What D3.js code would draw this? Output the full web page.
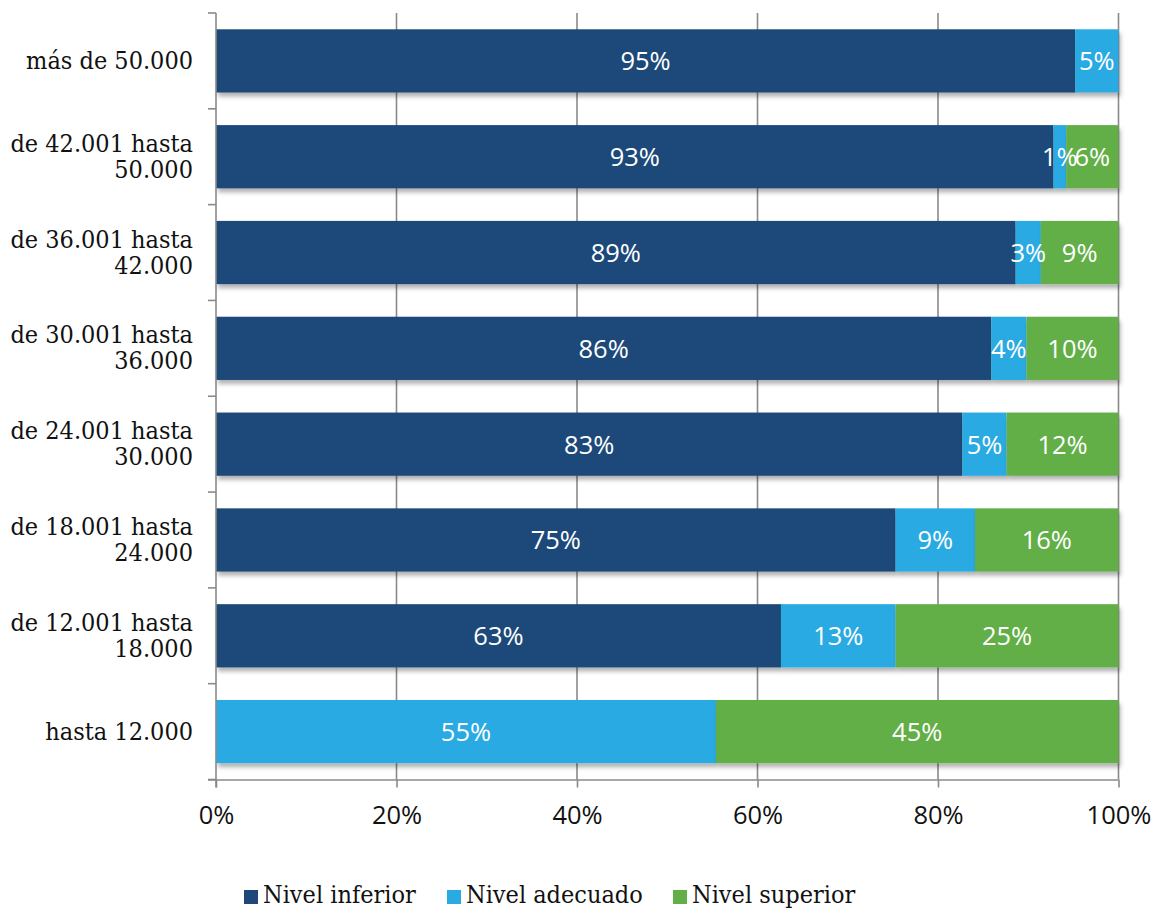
<!DOCTYPE html>
<html>
<head>
<meta charset="utf-8">
<script src="https://cdn.jsdelivr.net/npm/d3@7"></script>
<style>
  html, body { margin: 0; padding: 0; background: #fff; }
  svg { display: block; }
  .cat { font-family: "DejaVu Serif", serif; font-stretch: condensed; font-size: 25px; fill: #111; }
  .leg { font-family: "DejaVu Serif", serif; font-stretch: condensed; font-size: 25px; fill: #111; }
  .num { font-family: "Open Sans", sans-serif; font-weight: 400; font-size: 25.5px; }
</style>
</head>
<body>
<svg id="chart" width="1157" height="908"></svg>
<script>
// Income brackets (top to bottom)
const categories = [
  ["más de 50.000"],
  ["de 42.001 hasta", "50.000"],
  ["de 36.001 hasta", "42.000"],
  ["de 30.001 hasta", "36.000"],
  ["de 24.001 hasta", "30.000"],
  ["de 18.001 hasta", "24.000"],
  ["de 12.001 hasta", "18.000"],
  ["hasta 12.000"]
];
const seriesNames = ["Nivel inferior", "Nivel adecuado", "Nivel superior"];
// Shares per bracket (fractions of 1)
const nivelInferior  = [0.952, 0.928, 0.886, 0.859, 0.827, 0.753, 0.626, 0.0];
const nivelAdecuado  = [0.048, 0.014, 0.028, 0.039, 0.049, 0.088, 0.127, 0.554];
const nivelSuperior  = [0.0,   0.058, 0.086, 0.102, 0.124, 0.159, 0.247, 0.446];
const xTicks = [0, 0.2, 0.4, 0.6, 0.8, 1.0];
const colors = ["#1f4879", "#29aae2", "#62ae47"];

const svg = d3.select("#chart");
const plotLeft = 216, plotRight = 1118.5, plotTop = 13, plotBottom = 779.5;

const x = d3.scaleLinear().domain([0, 1]).range([plotLeft, plotRight]);
const y = d3.scaleBand().domain(d3.range(categories.length)).range([plotTop, plotBottom])
  .paddingInner(0.34).paddingOuter(0.17);

// drop shadow under bars
const defs = svg.append("defs");
const f = defs.append("filter").attr("id", "shadow")
  .attr("x", "-5%").attr("y", "-20%").attr("width", "110%").attr("height", "150%");
f.append("feDropShadow").attr("dx", 2).attr("dy", 4).attr("stdDeviation", 2.2)
  .attr("flood-color", "#000").attr("flood-opacity", 0.3);

// vertical gridlines
svg.append("g").selectAll("line").data(xTicks.slice(1)).join("line")
  .attr("x1", d => x(d)).attr("x2", d => x(d))
  .attr("y1", plotTop).attr("y2", plotBottom)
  .attr("stroke", "#8a8a8a").attr("stroke-width", 1.6);

// stacked data
const rows = categories.map((c, i) => ({ i, v: [nivelInferior[i], nivelAdecuado[i], nivelSuperior[i]] }));
const stack = d3.stack().keys([0, 1, 2]).value((d, k) => d.v[k]);
const layers = stack(rows);

const barG = svg.append("g");
layers.forEach((layer, k) => {
  barG.append("g").attr("filter", "url(#shadow)").selectAll("rect").data(layer).join("rect")
    .attr("x", d => x(d[0]))
    .attr("width", d => Math.max(0, x(d[1]) - x(d[0])))
    .attr("y", d => y(d.data.i))
    .attr("height", y.bandwidth())
    .attr("fill", colors[k]);
});

// value labels
const fmt = d3.format(".0%");
layers.forEach((layer, k) => {
  svg.append("g").selectAll("text").data(layer.filter(d => d[1] - d[0] > 0)).join("text")
    .attr("class", "num")
    .attr("x", d => (x(d[0]) + x(d[1])) / 2)
    .attr("y", d => y(d.data.i) + y.bandwidth() / 2 + 9.5)
    .attr("text-anchor", "middle")
    .attr("fill", "#fff")
    .text(d => fmt(d[1] - d[0]));
});

// x axis
const xAxis = svg.append("g").attr("transform", `translate(0,${plotBottom})`)
  .call(d3.axisBottom(x).tickValues(xTicks).tickFormat(d3.format(".0%")).tickSize(8).tickPadding(14));
xAxis.select(".domain").attr("stroke", "#8a8a8a").attr("stroke-width", 1.6)
  .attr("d", `M${plotLeft - 8},0.5H${plotRight}`);
xAxis.selectAll(".tick line").attr("stroke", "#8a8a8a").attr("stroke-width", 1.6);
xAxis.selectAll(".tick text").attr("class", "num").attr("fill", "#111").attr("dy", "0.9em");

// y axis line and boundary ticks
const boundaries = d3.range(categories.length + 1).map(i => plotTop + i * (plotBottom - plotTop) / categories.length);
svg.append("line").attr("x1", plotLeft).attr("x2", plotLeft).attr("y1", plotTop).attr("y2", plotBottom + 8)
  .attr("stroke", "#8a8a8a").attr("stroke-width", 1.6);
svg.append("g").selectAll("line").data(boundaries).join("line")
  .attr("x1", plotLeft - 8).attr("x2", plotLeft).attr("y1", d => d).attr("y2", d => d)
  .attr("stroke", "#8a8a8a").attr("stroke-width", 1.6);

// category labels
const catG = svg.append("g");
categories.forEach((lines, i) => {
  const cy = y(i) + y.bandwidth() / 2;
  const t = catG.append("text").attr("class", "cat").attr("text-anchor", "end");
  lines.forEach((ln, j) => {
    const base = lines.length === 1 ? cy + 8 : cy - 5 + j * 26;
    t.append("tspan").attr("x", 193).attr("y", base).text(ln);
  });
});

// legend
const legX = [244, 447, 673];
const leg = svg.append("g");
seriesNames.forEach((n, k) => {
  leg.append("rect").attr("x", legX[k]).attr("y", 890).attr("width", 14).attr("height", 14).attr("fill", colors[k]);
  leg.append("text").attr("class", "leg").attr("x", legX[k] + 19).attr("y", 903).text(n);
});
</script>
</body>
</html>
